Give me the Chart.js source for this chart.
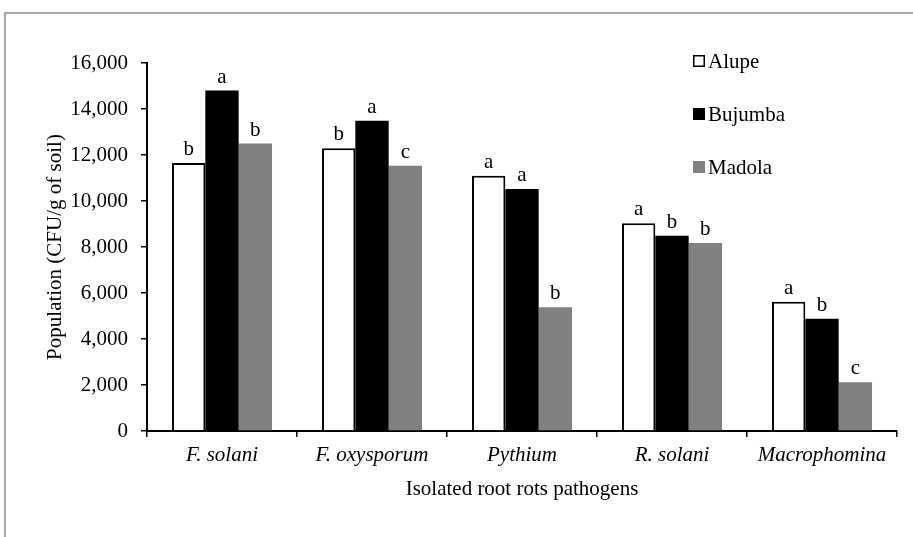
<!DOCTYPE html>
<html>
<head>
<meta charset="utf-8">
<script src="https://cdn.jsdelivr.net/npm/chart.js@4"></script>
<style>
  html, body { margin: 0; padding: 0; background: #fff; }
  #wrap { width: 913px; height: 537px; }
</style>
</head>
<body>
<div id="wrap"><canvas id="chart" width="913" height="537"></canvas></div>
<script>
// ===== データ =====
var pathogens = ["F. solani", "F. oxysporum", "Pythium", "R. solani", "Macrophomina"];
var alupe   = [11650, 12290, 11100, 9030, 5620];
var bujumba = [14800, 13490, 10520, 8490, 4880];
var madola  = [12500, 11530, 5380, 8170, 2120];
// 有意差の文字
var alupeLetters   = ["b", "b", "a", "a", "a"];
var bujumbaLetters = ["a", "a", "a", "b", "b"];
var madolaLetters  = ["b", "c", "b", "b", "c"];
var yTicks = [0, 2000, 4000, 6000, 8000, 10000, 12000, 14000, 16000];

var serif = "'Liberation Serif', 'Times New Roman', serif";

// ===== 外枠（上と左だけ見える） =====
var framePlugin = {
  id: "frame",
  beforeDraw: function (chart) {
    var ctx = chart.ctx;
    ctx.save();
    ctx.fillStyle = "#fff";
    ctx.fillRect(0, 0, chart.width, chart.height);
    ctx.strokeStyle = "#8c8c8c";
    ctx.lineWidth = 1.5;
    ctx.beginPath();
    ctx.moveTo(chart.width, 13);
    ctx.lineTo(5, 13);
    ctx.lineTo(5, chart.height);
    ctx.stroke();
    ctx.restore();
  }
};

// ===== バー上の文字 =====
var letterPlugin = {
  id: "letters",
  afterDatasetsDraw: function (chart) {
    var ctx = chart.ctx;
    ctx.save();
    ctx.fillStyle = "#000";
    ctx.font = "21px " + serif;
    ctx.textAlign = "center";
    ctx.textBaseline = "bottom";
    chart.data.datasets.forEach(function (ds, i) {
      chart.getDatasetMeta(i).data.forEach(function (bar, j) {
        ctx.fillText(ds.letters[j], bar.x, bar.y - 3);
      });
    });
    ctx.restore();
  }
};

// ===== 凡例（右上・縦並び） =====
var legendPlugin = {
  id: "sideLegend",
  afterDraw: function (chart) {
    var ctx = chart.ctx;
    ctx.save();
    ctx.font = "21px " + serif;
    ctx.textBaseline = "middle";
    chart.data.datasets.forEach(function (ds, i) {
      var y = 61 + i * 53;
      ctx.fillStyle = ds.backgroundColor;
      ctx.fillRect(693, y - 6, 12, 12);
      if (ds.borderWidth) {
        ctx.strokeStyle = "#000";
        ctx.lineWidth = 1.5;
        ctx.strokeRect(693.75, y - 5.25, 10.5, 10.5);
      }
      ctx.fillStyle = "#000";
      ctx.fillText(ds.label, 708, y + 1);
    });
    ctx.restore();
  }
};

new Chart(document.getElementById("chart"), {
  type: "bar",
  data: {
    labels: pathogens,
    datasets: [
      { label: "Alupe", data: alupe, letters: alupeLetters,
        backgroundColor: "#ffffff", borderColor: "#000000", borderWidth: 2 },
      { label: "Bujumba", data: bujumba, letters: bujumbaLetters,
        backgroundColor: "#000000", borderWidth: 0 },
      { label: "Madola", data: madola, letters: madolaLetters,
        backgroundColor: "#808080", borderWidth: 0 }
    ]
  },
  options: {
    responsive: false,
    animation: false,
    devicePixelRatio: 1,
    categoryPercentage: 0.667,
    barPercentage: 1.0,
    layout: { padding: { top: 63, right: 16, bottom: 0, left: 0 } },
    plugins: { legend: { display: false }, tooltip: { enabled: false } },
    scales: {
      x: {
        grid: { display: true, drawOnChartArea: false, color: "#000", lineWidth: 1.5, tickLength: 6, offset: true },
        border: { color: "#000", width: 2 },
        ticks: { color: "#000", padding: 6, maxRotation: 0, autoSkip: false,
                 font: { family: serif, size: 21, style: "italic" } },
        title: { display: true, text: "Isolated root rots pathogens", color: "#000",
                 font: { family: serif, size: 21 }, padding: { top: 0, bottom: 35 } },
        afterFit: function (s) { s.height = 106; }
      },
      y: {
        min: 0, max: 16000,
        afterBuildTicks: function (s) { s.ticks = yTicks.map(function (v) { return { value: v }; }); },
        grid: { display: true, drawOnChartArea: false, color: "#000", lineWidth: 1.5, tickLength: 6 },
        border: { color: "#000", width: 2 },
        ticks: { color: "#000", padding: 13, font: { family: serif, size: 21 },
                 callback: function (v) { return v.toLocaleString("en-US"); } },
        title: { display: true, text: "Population (CFU/g of soil)", color: "#000",
                 font: { family: serif, size: 21 }, padding: { top: 43, bottom: 0 } },
        afterFit: function (s) { s.width = 147; }
      }
    }
  },
  plugins: [framePlugin, letterPlugin, legendPlugin]
});
</script>
</body>
</html>
